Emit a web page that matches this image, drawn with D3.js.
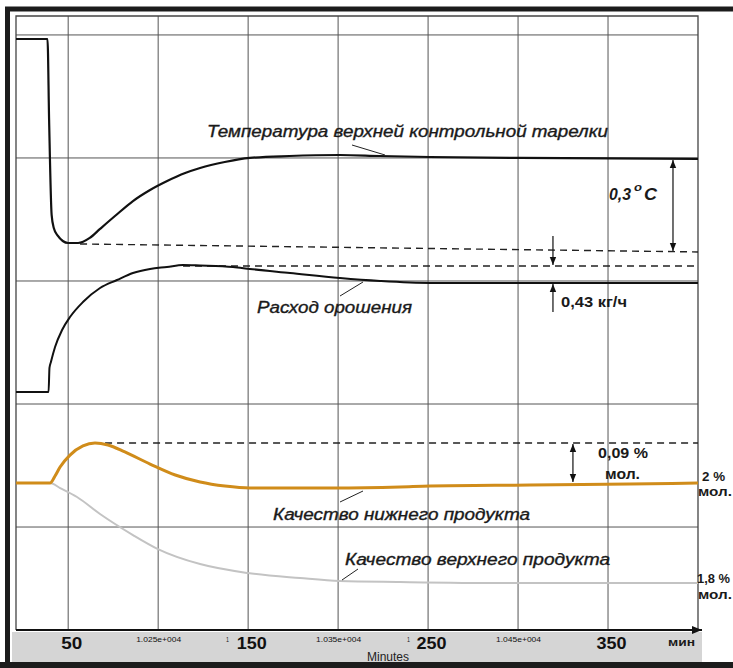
<!DOCTYPE html>
<html>
<head>
<meta charset="utf-8">
<script src="https://cdn.jsdelivr.net/npm/d3@7"></script>
<style>
  body { margin: 0; background: #fff; }
  svg { display: block; font-family: "Liberation Sans", Arial, sans-serif; }
</style>
</head>
<body>
<div id="chart"></div>
<script>
// time axis, minutes
const tickMinutes = [50, 100, 150, 200, 250, 300, 350];
const tickLabels = ['50', '1.025e+004', '150', '1.035e+004', '250', '1.045e+004', '350'];
// values are in grid divisions (0 = lowest gridline)
const gridRows = [0, 1, 2, 3, 4];

// Температура верхней контрольной тарелки
const tempMin = [21, 38.5, 39.4, 40.8, 42, 44.3, 47, 50, 55.5, 62, 67.7, 76, 86, 95.5, 105, 115, 123.3, 137, 151, 173, 201, 223, 251, 301, 351, 400];
const tempVal = [3.967, 3.967, 3.309, 2.537, 2.431, 2.366, 2.325, 2.309, 2.309, 2.35, 2.423, 2.528, 2.65, 2.74, 2.813, 2.878, 2.919, 2.967, 3.0, 3.016, 3.024, 3.016, 3.008, 3.0, 2.996, 2.992];

// Расход орошения
const refluxMin = [21, 39.1, 39.6, 40.4, 42.7, 46.6, 51, 58.2, 67.7, 77.1, 86, 95.5, 104.9, 113.8, 123.3, 141.6, 151, 173.3, 201, 223.3, 251.1, 301.1, 400];
const refluxVal = [1.098, 1.098, 1.293, 1.341, 1.463, 1.602, 1.707, 1.829, 1.943, 2.008, 2.065, 2.098, 2.114, 2.13, 2.126, 2.114, 2.098, 2.065, 2.024, 2.0, 1.984, 1.984, 1.984];

// Качество нижнего продукта
const bottomMin = [21, 39.9, 42.7, 45.5, 51, 58.2, 64.9, 72.1, 81.5, 95.5, 109.5, 123.3, 137.1, 151, 197.2, 234.4, 251.1, 306.6, 362.2, 400];
const bottomVal = [0.358, 0.358, 0.415, 0.488, 0.585, 0.659, 0.683, 0.667, 0.61, 0.512, 0.423, 0.366, 0.333, 0.317, 0.317, 0.325, 0.333, 0.341, 0.35, 0.358];

// Качество верхнего продукта
const topMin = [21, 39.9, 45.5, 54.9, 67.7, 86, 99.9, 123.3, 149.9, 178.8, 201, 234.4, 290, 400];
const topVal = [0.358, 0.358, 0.317, 0.244, 0.106, -0.065, -0.179, -0.301, -0.374, -0.415, -0.439, -0.447, -0.455, -0.455];

// dashed reference levels: [start minute, start value, end minute, end value]
const tempMinLevel = [56.6, 2.301, 400, 2.236];
const refluxPeakLevel = [113.8, 2.122, 400, 2.122];
const bottomPeakLevel = [70.5, 0.683, 400, 0.683];

const width = 733, height = 668;

const svg = d3.select('#chart').append('svg')
    .attr('width', width)
    .attr('height', height);

const x = d3.scaleLinear().domain([21, 400]).range([16, 698]);
const y = d3.scaleLinear().domain([-0.837, 4.154]).range([630, 16]);

// arrow heads
const defs = svg.append('defs');
defs.append('marker')
    .attr('id', 'head')
    .attr('viewBox', '0 0 10 10')
    .attr('refX', 10).attr('refY', 5)
    .attr('markerWidth', 8).attr('markerHeight', 8)
    .attr('markerUnits', 'userSpaceOnUse')
    .attr('orient', 'auto-start-reverse')
  .append('path').attr('d', 'M0,1L10,5L0,9Z').attr('fill', '#111');
defs.append('marker')
    .attr('id', 'axisHead')
    .attr('viewBox', '0 0 10 10')
    .attr('refX', 10).attr('refY', 5)
    .attr('markerWidth', 14).attr('markerHeight', 10)
    .attr('markerUnits', 'userSpaceOnUse')
    .attr('orient', 'auto')
  .append('path').attr('d', 'M0,1L10,5L0,9Z').attr('fill', '#111');

// bottom band for the axis
svg.append('rect')
    .attr('x', 12).attr('y', 632)
    .attr('width', 690).attr('height', 30)
    .attr('fill', '#d5d5d5');

// grid
svg.append('g').selectAll('line')
    .data(tickMinutes)
    .join('line')
    .attr('x1', d => x(d)).attr('x2', d => x(d))
    .attr('y1', y.range()[1]).attr('y2', y.range()[0])
    .attr('stroke', '#555').attr('stroke-width', 1);
svg.append('g').selectAll('line')
    .data(gridRows)
    .join('line')
    .attr('x1', x.range()[0]).attr('x2', x.range()[1])
    .attr('y1', d => y(d)).attr('y2', d => y(d))
    .attr('stroke', '#555').attr('stroke-width', 1);

// plot frame
svg.append('path')
    .attr('d', `M${x(21)},${y(-0.837)}V${y(4.154)}H${x(400)}V${y(-0.837)}`)
    .attr('fill', 'none')
    .attr('stroke', '#444')
    .attr('stroke-width', 1.3);

// dashed levels
svg.append('g').selectAll('line')
    .data([tempMinLevel, refluxPeakLevel, bottomPeakLevel])
    .join('line')
    .attr('x1', d => x(d[0])).attr('y1', d => y(d[1]))
    .attr('x2', d => x(d[2])).attr('y2', d => y(d[3]))
    .attr('stroke', '#222')
    .attr('stroke-width', 1.4)
    .attr('stroke-dasharray', '7,5');

// curves
const line = d3.line()
    .x(d => x(d[0]))
    .y(d => y(d[1]))
    .curve(d3.curveMonotoneX);

const series = [
    { t: topMin, v: topVal, color: '#c3c3c3', w: 2 },
    { t: bottomMin, v: bottomVal, color: '#d08c1a', w: 3 },
    { t: refluxMin, v: refluxVal, color: '#111', w: 2 },
    { t: tempMin, v: tempVal, color: '#111', w: 2.2 }
];
series.forEach(s => {
    svg.append('path')
        .datum(d3.zip(s.t, s.v))
        .attr('fill', 'none')
        .attr('stroke', s.color)
        .attr('stroke-width', s.w)
        .attr('stroke-linejoin', 'round')
        .attr('d', line);
});

// measurement arrows
svg.append('line')
    .attr('x1', x(386.1)).attr('x2', x(386.1))
    .attr('y1', y(2.992) + 1).attr('y2', y(2.236) - 1)
    .attr('stroke', '#111').attr('stroke-width', 1.2)
    .attr('marker-start', 'url(#head)').attr('marker-end', 'url(#head)');
svg.append('line')
    .attr('x1', x(319.4)).attr('x2', x(319.4))
    .attr('y1', y(2.366)).attr('y2', y(2.122) - 1)
    .attr('stroke', '#111').attr('stroke-width', 1.2)
    .attr('marker-end', 'url(#head)');
svg.append('line')
    .attr('x1', x(319.4)).attr('x2', x(319.4))
    .attr('y1', y(1.748)).attr('y2', y(1.984) + 1)
    .attr('stroke', '#111').attr('stroke-width', 1.2)
    .attr('marker-end', 'url(#head)');
svg.append('line')
    .attr('x1', x(330.5)).attr('x2', x(330.5))
    .attr('y1', y(0.683) + 1).attr('y2', y(0.358) - 1)
    .attr('stroke', '#111').attr('stroke-width', 1.2)
    .attr('marker-start', 'url(#head)').attr('marker-end', 'url(#head)');

// leader lines
const leaders = [[352, 145, 385, 155], [363, 282, 340, 296], [340, 502, 363, 491], [342, 580, 358, 569]];
svg.append('g').selectAll('line')
    .data(leaders)
    .join('line')
    .attr('x1', d => d[0]).attr('y1', d => d[1])
    .attr('x2', d => d[2]).attr('y2', d => d[3])
    .attr('stroke', '#222').attr('stroke-width', 1);

// labels
function label(txt, px, py, size, len, opts = {}) {
    return svg.append('text')
        .attr('x', px).attr('y', py)
        .attr('font-size', size)
        .attr('font-style', opts.italic ? 'italic' : 'normal')
        .attr('font-weight', opts.bold ? 'bold' : 'normal')
        .attr('fill', opts.color || '#1a1a1a')
        .attr('stroke', opts.heavy ? '#1a1a1a' : 'none')
        .attr('stroke-width', opts.heavy ? 0.35 : 0)
        .attr('textLength', len)
        .attr('lengthAdjust', 'spacingAndGlyphs')
        .text(txt);
}
label('Температура верхней контрольной тарелки', 207, 137, 16, 401, { italic: true, heavy: true });
label('Расход орошения', 257, 313, 16, 155, { italic: true, heavy: true });
label('Качество нижнего продукта', 273, 520, 16, 257, { italic: true, heavy: true });
label('Качество верхнего продукта', 345, 565, 16, 265, { italic: true, heavy: true });

label('0,3', 609, 200, 17, 22, { italic: true, bold: true });
label('o', 634, 191, 11, 8, { italic: true, bold: true });
label('C', 644, 200, 17, 13, { italic: true, bold: true });
label('0,43 кг/ч', 561, 307, 14, 66, { bold: true });
label('0,09 %', 598, 458, 14, 50, { bold: true });
label('мол.', 605, 479, 14, 35, { bold: true });
label('2 %', 702, 481, 12, 23, { bold: true });
label('мол.', 698, 496, 12, 34, { bold: true });
label('1,8 %', 697, 583, 12, 33, { bold: true });
label('мол.', 698, 599, 12, 34, { bold: true });

// x axis
const axis = svg.append('g')
    .attr('transform', `translate(0,${y(-0.837)})`)
    .call(d3.axisBottom(x).tickValues(tickMinutes).tickSize(0)
        .tickFormat((d, i) => tickLabels[i]));
axis.select('.domain').remove();
axis.selectAll('text')
    .attr('fill', '#111')
    .attr('dy', null)
    .each(function(d, i) {
        const major = i % 2 === 0;
        d3.select(this)
            .attr('x', major ? 3 : 0)
            .attr('y', major ? 19 : 12)
            .attr('font-size', major ? 16 : 6.5)
            .attr('font-weight', major ? 'bold' : 'normal')
            .attr('font-family', '"Liberation Sans", Arial, sans-serif')
            .attr('textLength', major ? (d < 100 ? 21 : 30) : 45)
            .attr('lengthAdjust', 'spacingAndGlyphs');
    });
svg.append('line')
    .attr('x1', x(21)).attr('x2', 702)
    .attr('y1', y(-0.837)).attr('y2', y(-0.837))
    .attr('stroke', '#111').attr('stroke-width', 2)
    .attr('marker-end', 'url(#axisHead)');
label('1', 226, 642, 6.5, 3);
label('1', 407, 642, 6.5, 3);
label('мин', 668, 646, 11, 27, { bold: true });
svg.append('text')
    .attr('x', 388).attr('y', 661)
    .attr('text-anchor', 'middle')
    .attr('font-size', 12)
    .attr('fill', '#222')
    .text('Minutes');

// outer frame
svg.append('path')
    .attr('d', 'M7.5,668V9H733')
    .attr('fill', 'none')
    .attr('stroke', '#1c1c1c')
    .attr('stroke-width', 5);
svg.append('line')
    .attr('x1', 0).attr('x2', 733)
    .attr('y1', 665).attr('y2', 665)
    .attr('stroke', '#1c1c1c')
    .attr('stroke-width', 6);
</script>
</body>
</html>
